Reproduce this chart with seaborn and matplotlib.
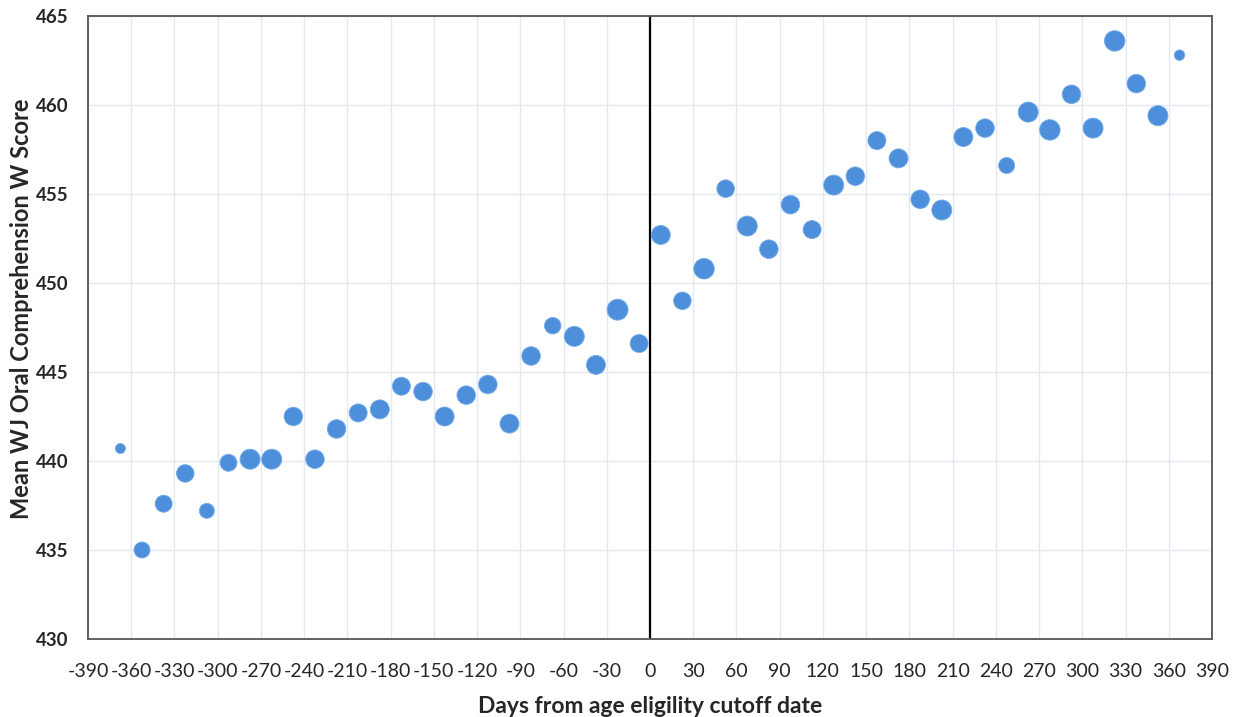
import pandas as pd
import seaborn as sns
import matplotlib.pyplot as plt

# days from cutoff (bin midpoints) and mean WJ oral comprehension W score
days = [-367.5, -352.5, -337.5, -322.5, -307.5, -292.5, -277.5, -262.5, -247.5, -232.5,
        -217.5, -202.5, -187.5, -172.5, -157.5, -142.5, -127.5, -112.5, -97.5, -82.5,
        -67.5, -52.5, -37.5, -22.5, -7.5,
        7.5, 22.5, 37.5, 52.5, 67.5, 82.5, 97.5, 112.5, 127.5, 142.5,
        157.5, 172.5, 187.5, 202.5, 217.5, 232.5, 247.5, 262.5, 277.5, 292.5,
        307.5, 322.5, 337.5, 352.5, 367.5]
scores = [440.7, 435.0, 437.6, 439.3, 437.2, 439.9, 440.1, 440.1, 442.5, 440.1,
          441.8, 442.7, 442.9, 444.2, 443.9, 442.5, 443.7, 444.3, 442.1, 445.9,
          447.6, 447.0, 445.4, 448.5, 446.6,
          452.7, 449.0, 450.8, 455.3, 453.2, 451.9, 454.4, 453.0, 455.5, 456.0,
          458.0, 457.0, 454.7, 454.1, 458.2, 458.7, 456.6, 459.6, 458.6, 460.6,
          458.7, 463.6, 461.2, 459.4, 462.8]
# bubble weight (number of children in bin, approx.)
n_kids = [25, 64, 72, 77, 56, 72, 100, 100, 86, 86,
          86, 81, 90, 81, 86, 90, 86, 86, 90, 86,
          68, 100, 90, 110, 81,
          90, 77, 105, 77, 100, 86, 86, 81, 100, 86,
          81, 90, 86, 100, 90, 86, 64, 100, 105, 86,
          100, 105, 86, 100, 27]

x_ticks = list(range(-390, 391, 30))
y_ticks = list(range(430, 466, 5))

df = pd.DataFrame({"days": days, "score": scores, "n": n_kids})

sns.set_theme(style="whitegrid")
plt.rcParams['font.family'] = ['Lato', 'DejaVu Sans']

fig = plt.figure(figsize=(12.41, 7.17), dpi=100)
ax = fig.add_axes([0.0709, 0.1088, 0.9057, 0.8689])

sns.scatterplot(data=df, x="days", y="score", size="n", sizes=(52, 228),
                size_norm=(25, 110), color="#4d8fda", edgecolor="#74abe8",
                linewidth=0.6, legend=False, ax=ax, zorder=3)

ax.axvline(0, color="black", linewidth=1.6, zorder=2)

ax.set_xlim(-390, 390)
ax.set_ylim(430, 465)
ax.set_xticks(x_ticks)
ax.set_yticks(y_ticks)
ax.set_xticklabels([str(t) for t in x_ticks], fontsize=14)
ax.set_yticklabels([str(t) for t in y_ticks], fontsize=13.5, fontweight="bold")
ax.tick_params(axis="x", length=0, pad=17)
ax.tick_params(axis="y", length=0, pad=14)

ax.grid(True, color="#e5e8ef", linewidth=1)
for s in ax.spines.values():
    s.set_color("#555555")
    s.set_linewidth(1.3)
    s.set_visible(True)

ax.set_xlabel("Days from age eligility cutoff date", fontsize=16.5, fontweight="bold", labelpad=12)
ax.set_ylabel("Mean WJ Oral Comprehension W Score", fontsize=17, fontweight="bold")
ax.yaxis.set_label_coords(-0.049, 0.53)

fig.savefig("out.png", dpi=100, facecolor="white")
